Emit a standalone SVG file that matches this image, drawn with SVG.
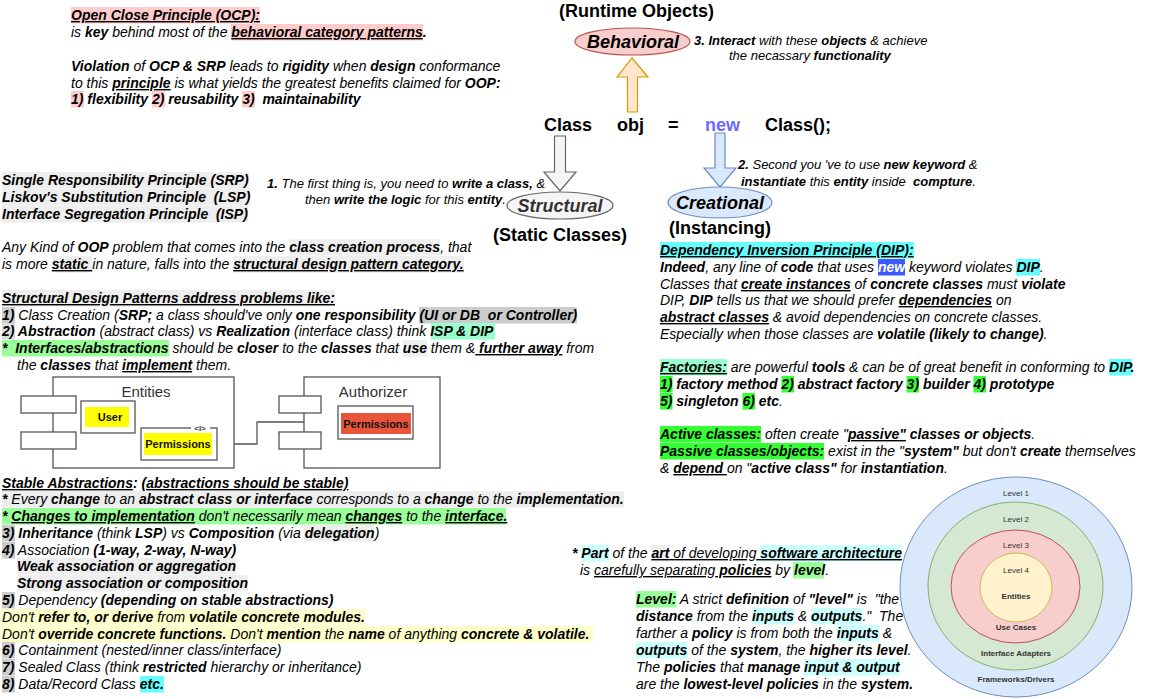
<svg xmlns="http://www.w3.org/2000/svg" width="1153" height="699" viewBox="0 0 1153 699" xml:space="preserve">
<style>
.f{font-family:"Liberation Sans",Arial,Helvetica,sans-serif;}
.t{font-family:"Liberation Sans",Arial,Helvetica,sans-serif;font-size:14px;font-style:italic;fill:#000;white-space:pre;}
.s{font-size:13px;}
.b{font-weight:bold;}
.u{text-decoration:underline;}
.h1{font-family:"Liberation Sans",Arial,Helvetica,sans-serif;font-size:18px;font-weight:bold;fill:#000;}
.hl{font-family:"Liberation Sans",Arial,Helvetica,sans-serif;font-size:18px;font-weight:bold;font-style:italic;text-anchor:middle;}
.cb{fill:#fff;stroke:#555;stroke-width:1.3;}
.ct{font-family:"Liberation Sans",Arial,Helvetica,sans-serif;font-size:11px;font-weight:bold;fill:#111;text-anchor:middle;}
.lv{font-family:"Liberation Sans",Arial,Helvetica,sans-serif;font-size:8px;fill:#333;text-anchor:middle;}
.lvb{font-family:"Liberation Sans",Arial,Helvetica,sans-serif;font-size:8px;font-weight:bold;fill:#333;text-anchor:middle;}
.line{fill:none;stroke:#555;stroke-width:1.3;}
.gy{fill:#eeeeee;}
.gd{fill:#cccccc;}
.yl{fill:#ffffcc;}
.cy{fill:#66ffff;}
.lc{fill:#ccffff;}
.gr{fill:#99ff99;}
.bg{fill:#33ff33;}
.pk{fill:#ffcccc;}
.mt{fill:#99ffcc;}
</style>
<defs>
<marker id="openArrow" viewBox="0 0 10 10" refX="9" refY="5" markerWidth="7" markerHeight="7" orient="auto" markerUnits="userSpaceOnUse"><path d="M1,1 L9,5 L1,9" fill="none" stroke="#555" stroke-width="1.5"/></marker>
<marker id="triArrow" viewBox="0 0 10 10" refX="9" refY="5" markerWidth="8" markerHeight="8" orient="auto" markerUnits="userSpaceOnUse"><path d="M1,1 L9,5 L1,9 Z" fill="#fff" stroke="#555" stroke-width="1.3"/></marker>
</defs>
<rect width="1153" height="699" fill="#fff"/>

<g id="ocp-notes">
<rect class="pk" x="71" y="7" width="189" height="16.5"/>
<rect class="pk" x="231" y="24" width="192" height="16.5"/>
<rect class="pk" x="71" y="91" width="13" height="16.5"/>
<rect class="pk" x="152" y="91" width="13" height="16.5"/>
<rect class="pk" x="242" y="91" width="13" height="16.5"/>
<text class="t" x="71" y="20"><tspan class="b u">Open Close Principle (OCP):</tspan></text>
<text class="t" x="71" y="37">is <tspan class="b">key</tspan> behind most of the <tspan class="b u">behavioral category patterns</tspan><tspan class="b">.</tspan></text>
<text class="t" x="71" y="71"><tspan class="b">Violation</tspan> of <tspan class="b">OCP &amp; SRP</tspan> leads to <tspan class="b">rigidity</tspan> when <tspan class="b">design</tspan> conformance</text>
<text class="t" x="71" y="88">to this <tspan class="b u">principle</tspan> is what yields the greatest benefits claimed for <tspan class="b">OOP:</tspan></text>
<text class="t b" x="71" y="104" xml:space="preserve">1) flexibility 2) reusability 3)  maintainability</text>
</g>

<g id="runtime-title">
<text class="h1" x="559" y="17">(Runtime Objects)</text>
</g>

<g id="behavioral">
<ellipse cx="632.5" cy="41.5" rx="57.5" ry="13.5" fill="#f8cecc" stroke="#b85450" stroke-width="1.2"/>
<text class="hl" x="633" y="48" fill="#000">Behavioral</text>
</g>

<g id="note-3">
<text class="t s" x="694" y="45"><tspan class="b">3. Interact</tspan> with these <tspan class="b">objects</tspan> &amp; achieve</text>
<text class="t s" x="729" y="60">the necassary <tspan class="b">functionality</tspan></text>
</g>

<g id="statement">
<text class="h1" x="544" y="131">Class</text>
<text class="h1" x="617" y="131">obj</text>
<text class="h1" x="668" y="131">=</text>
<text class="h1" x="705" y="131" style="fill:#6b6bff">new</text>
<text class="h1" x="765" y="131">Class();</text>
</g>

<g id="connectors">
<path d="M632,58 L648,77 L637.5,77 L637.5,112 L627.5,112 L627.5,77 L617,77 Z" fill="#ffe6cc" stroke="#d79b00" stroke-width="1.2"/>
<path d="M554.5,136 L565.5,136 L565.5,172 L576,172 L560,191 L544,172 L554.5,172 Z" fill="#f5f5f5" stroke="#666" stroke-width="1.2"/>
<path d="M715,133 L725,133 L725,168 L736,168 L720,187 L704,168 L715,168 Z" fill="#dae8fc" stroke="#6c8ebf" stroke-width="1.2"/>
<polyline class="line" points="108,433 108,444 140,444" marker-end="url(#openArrow)"/>
<polyline class="line" points="338,422 257,422 257,444 218,444" marker-end="url(#triArrow)"/>
</g>

<g id="note-1">
<text class="t s" x="267" y="188"><tspan class="b">1.</tspan> The first thing is, you need to <tspan class="b">write a class,</tspan> &amp;</text>
<text class="t s" x="305" y="204">then <tspan class="b">write the logic</tspan> for this <tspan class="b">entity</tspan>.</text>
</g>

<g id="structural">
<ellipse cx="560" cy="205.5" rx="53" ry="13.5" fill="#f5f5f5" stroke="#666" stroke-width="1.2"/>
<text class="hl" x="560" y="212" fill="#333">Structural</text>
<text class="h1" x="560" y="241" text-anchor="middle">(Static Classes)</text>
</g>

<g id="creational">
<ellipse cx="720" cy="202.5" rx="52" ry="15.5" fill="#dae8fc" stroke="#6c8ebf" stroke-width="1.2"/>
<text class="hl" x="720" y="209" fill="#000">Creational</text>
<text class="h1" x="720" y="234" text-anchor="middle">(Instancing)</text>
</g>

<g id="note-2">
<text class="t s" x="738" y="169"><tspan class="b">2.</tspan> Second you 've to use <tspan class="b">new keyword</tspan> &amp;</text>
<text class="t s" x="741" y="186" xml:space="preserve"><tspan class="b">instantiate</tspan> this <tspan class="b">entity</tspan> inside  <tspan class="b">compture</tspan>.</text>
</g>

<g id="principles">
<rect class="gy" x="2" y="172" width="247" height="16.5"/>
<rect class="gy" x="2" y="189" width="248.5" height="16.5"/>
<rect class="gy" x="2" y="206" width="246" height="16.5"/>
<text class="t b" x="2" y="185">Single Responsibility Principle (SRP)</text>
<text class="t b" x="2" y="202" xml:space="preserve">Liskov's Substitution Principle  (LSP)</text>
<text class="t b" x="2" y="219" xml:space="preserve">Interface Segregation Principle  (ISP)</text>
<rect class="gy" x="289" y="239" width="151" height="16.5"/>
<rect class="gy" x="52" y="256" width="40" height="16.5"/>
<rect class="gy" x="233" y="256" width="231" height="16.5"/>
<text class="t" x="2" y="252">Any Kind of <tspan class="b">OOP</tspan> problem that comes into the <tspan class="b">class creation process</tspan>, that</text>
<text class="t" x="2" y="269">is more <tspan class="b u">static </tspan>in nature, falls into the <tspan class="b u">structural design pattern category.</tspan></text>
</g>

<g id="structural-problems">
<rect class="gy" x="2" y="290" width="333" height="16.5"/>
<text class="t b u" x="2" y="303">Structural Design Patterns address problems like:</text>
<rect class="gd" x="2" y="307" width="13" height="16.5"/>
<rect class="gd" x="419" y="307" width="158" height="16.5"/>
<rect x="2" y="323" width="13" height="16.5" fill="#dddddd"/>
<rect class="mt" x="431" y="323" width="64" height="16.5"/>
<rect class="gr" x="2" y="340" width="167" height="16.5"/>
<rect class="gy" x="403" y="340" width="24" height="16.5"/>
<text class="t" x="2" y="320" xml:space="preserve"><tspan class="b">1)</tspan> Class Creation (<tspan class="b">SRP;</tspan> a class should've only <tspan class="b">one responsibility (UI or DB  or Controller)</tspan></text>
<text class="t" x="2" y="336"><tspan class="b">2) Abstraction</tspan> (abstract class) vs <tspan class="b">Realization</tspan> (interface class) think <tspan class="b">ISP &amp; DIP</tspan></text>
<text class="t" x="2" y="353" xml:space="preserve"><tspan class="b">*  Interfaces/abstractions</tspan> should be <tspan class="b">closer</tspan> to the <tspan class="b">classes</tspan> that <tspan class="b">use</tspan> them &amp;<tspan class="b u"> further away</tspan> from</text>
<text class="t" x="17" y="370">the <tspan class="b">classes</tspan> that <tspan class="b u">implement</tspan> them.</text>
</g>

<g id="component-diagram">
<g id="entities">
<rect class="cb" x="53" y="377" width="181" height="91"/>
<text class="f" x="146" y="397" font-size="15" fill="#333" text-anchor="middle">Entities</text>
<rect class="cb" x="21" y="396" width="55" height="17"/>
<rect class="cb" x="21" y="432" width="55" height="17"/>
<rect class="cb" x="81" y="401" width="54" height="32"/>
<rect x="85" y="407" width="44" height="20" fill="#ffff00"/>
<text class="ct" x="110" y="421">User</text>
<rect class="cb" x="141" y="428" width="76" height="32"/>
<rect x="144" y="433" width="68" height="22" fill="#ffff00"/>
<text class="ct" x="178" y="448">Permissions</text>
<rect x="191" y="424" width="19" height="8" fill="#fff"/>
<text class="f" x="200" y="431" font-size="8" font-weight="bold" fill="#444" text-anchor="middle">&lt;I&gt;</text>
</g>
<g id="authorizer">
<rect class="cb" x="304" y="377" width="136" height="91"/>
<text class="f" x="373" y="397" font-size="15" fill="#333" text-anchor="middle">Authorizer</text>
<rect class="cb" x="279" y="396" width="42" height="17"/>
<rect class="cb" x="279" y="432" width="42" height="17"/>
<rect class="cb" x="338" y="406" width="75" height="33"/>
<rect x="341" y="413" width="70" height="21" fill="#e8553a"/>
<text class="ct" x="376" y="428">Permissions</text>
</g>
</g>

<g id="stable-abstractions">
<text class="t b" x="2" y="488"><tspan class="u">Stable Abstractions</tspan>: <tspan class="u">(abstractions should be stable)</tspan></text>
<rect class="gy" x="2" y="491" width="622" height="16.5"/>
<text class="t" x="2" y="504"><tspan class="b">*</tspan> Every <tspan class="b">change</tspan> to an <tspan class="b">abstract class or interface</tspan> corresponds to a <tspan class="b">change</tspan> to the <tspan class="b">implementation.</tspan></text>
<rect class="gr" x="2" y="508" width="504" height="16.5"/>
<text class="t" x="2" y="521"><tspan class="b">* </tspan><tspan class="b u">Changes to implementation</tspan> don't necessarily mean <tspan class="b u">changes</tspan> to the <tspan class="b u">interface.</tspan></text>
<rect class="gd" x="2" y="525" width="13" height="16.5"/>
<rect class="gy" x="304" y="525" width="70" height="16.5"/>
<text class="t" x="2" y="538"><tspan class="b">3) Inheritance</tspan> (think <tspan class="b">LSP</tspan>) vs <tspan class="b">Composition</tspan> (via <tspan class="b">delegation</tspan>)</text>
<rect class="gd" x="2" y="542" width="13" height="16.5"/>
<text class="t" x="2" y="555"><tspan class="b">4)</tspan> Association <tspan class="b">(1-way, 2-way, N-way)</tspan></text>
<rect class="gy" x="17" y="558" width="219.5" height="16.5"/>
<text class="t b" x="17" y="571">Weak association or aggregation</text>
<rect class="gy" x="17" y="575" width="231" height="16.5"/>
<text class="t b" x="17" y="588">Strong association or composition</text>
<rect class="gd" x="2" y="592" width="13" height="16.5"/>
<text class="t" x="2" y="605"><tspan class="b">5)</tspan> Dependency <tspan class="b">(depending on stable abstractions)</tspan></text>
<rect class="yl" x="1" y="609" width="364" height="16.5"/>
<text class="t" x="2" y="622">Don't <tspan class="b">refer to, or derive</tspan> from <tspan class="b">volatile concrete modules.</tspan></text>
<rect class="yl" x="1" y="626" width="592" height="16.5"/>
<text class="t" x="2" y="639">Don't <tspan class="b">override concrete functions.</tspan> Don't <tspan class="b">mention</tspan> the <tspan class="b">name</tspan> of anything <tspan class="b">concrete &amp; volatile.</tspan></text>
<rect class="gd" x="2" y="642" width="13" height="16.5"/>
<text class="t" x="2" y="655"><tspan class="b">6)</tspan> Containment (nested/inner class/interface)</text>
<rect class="gd" x="2" y="659" width="13" height="16.5"/>
<text class="t" x="2" y="672"><tspan class="b">7)</tspan> Sealed Class (think <tspan class="b">restricted</tspan> hierarchy or inheritance)</text>
<rect class="gd" x="2" y="676" width="13" height="16.5"/>
<rect class="cy" x="140" y="676" width="24" height="16.5"/>
<text class="t" x="2" y="689"><tspan class="b">8)</tspan> Data/Record Class <tspan class="b">etc.</tspan></text>
</g>

<g id="dip">
<rect class="cy" x="660" y="242" width="254" height="16.5"/>
<text class="t b u" x="660" y="255">Dependency Inversion Principle (DIP):</text>
<rect x="878" y="259" width="27" height="16.5" fill="#3d5afe"/>
<rect class="cy" x="1016" y="259" width="24" height="16.5"/>
<text class="t" x="660" y="272"><tspan class="b">Indeed</tspan>, any line of <tspan class="b">code</tspan> that uses <tspan class="b" fill="#fff">new</tspan> keyword violates <tspan class="b">DIP</tspan>.</text>
<text class="t" x="660" y="289">Classes that <tspan class="b u">create instances</tspan> of <tspan class="b">concrete classes</tspan> must <tspan class="b">violate</tspan></text>
<text class="t" x="660" y="305">DIP, <tspan class="b">DIP</tspan> tells us that we should prefer <tspan class="b u">dependencies</tspan> on</text>
<text class="t" x="660" y="322"><tspan class="b u">abstract classes</tspan> &amp; avoid dependencies on concrete classes.</text>
<text class="t" x="660" y="339">Especially when those classes are <tspan class="b">volatile (likely to change)</tspan>.</text>
</g>

<g id="factories">
<rect class="mt" x="660" y="359" width="67" height="16.5"/>
<rect class="cy" x="1109" y="359" width="23" height="16.5"/>
<rect class="bg" x="660" y="376" width="12.5" height="16.5"/>
<rect class="bg" x="781.5" y="376" width="12.5" height="16.5"/>
<rect class="bg" x="906.5" y="376" width="12.5" height="16.5"/>
<rect class="bg" x="973.5" y="376" width="12.5" height="16.5"/>
<rect class="bg" x="660" y="393" width="12.5" height="16.5"/>
<rect class="bg" x="742.5" y="393" width="12.5" height="16.5"/>
<text class="t" x="660" y="372"><tspan class="b u">Factories:</tspan> are powerful <tspan class="b">tools</tspan> &amp; can be of great benefit in conforming to <tspan class="b">DIP.</tspan></text>
<text class="t b" x="660" y="389">1) factory method 2) abstract factory 3) builder 4) prototype</text>
<text class="t" x="660" y="406"><tspan class="b">5) singleton 6) etc</tspan>.</text>
</g>

<g id="active-passive">
<rect class="bg" x="660" y="426" width="101" height="16.5"/>
<rect class="bg" x="660" y="443" width="164" height="16.5"/>
<text class="t" x="660" y="439"><tspan class="b">Active classes:</tspan> often create "<tspan class="b u">passive"</tspan><tspan class="b"> classes or objects</tspan>.</text>
<text class="t" x="660" y="456"><tspan class="b">Passive classes/objects:</tspan> exist in the "<tspan class="b">system"</tspan> but don't <tspan class="b">create</tspan> themselves</text>
<text class="t" x="660" y="473">&amp; <tspan class="b u">depend </tspan>on "<tspan class="b">active class"</tspan> for <tspan class="b">instantiation</tspan>.</text>
</g>

<g id="architecture-note">
<rect class="lc" x="581" y="545" width="28" height="16.5"/>
<rect class="gy" x="651" y="545" width="18" height="16.5"/>
<rect class="lc" x="760" y="545" width="141" height="16.5"/>
<rect class="gr" x="793" y="562" width="31" height="16.5"/>
<text class="t" x="572" y="558"><tspan class="b">* Part</tspan> of the <tspan class="b u">art</tspan><tspan class="u"> of developing</tspan><tspan class="b u"> software architecture</tspan></text>
<text class="t" x="580" y="575">is <tspan class="u">carefully separating</tspan><tspan class="b u"> policies</tspan> by <tspan class="b">level</tspan>.</text>
</g>

<g id="level-definition">
<rect class="gr" x="636" y="591" width="40.5" height="16.5"/>
<rect class="lc" x="752" y="608" width="42" height="16.5"/>
<rect class="lc" x="811" y="608" width="51.5" height="16.5"/>
<rect class="lc" x="837" y="625" width="42" height="16.5"/>
<rect class="lc" x="636" y="642" width="51.5" height="16.5"/>
<rect class="lc" x="804" y="659" width="96" height="16.5"/>
<text class="t" x="636" y="604" xml:space="preserve"><tspan class="b">Level:</tspan> A strict <tspan class="b">definition</tspan> of <tspan class="b">"level"</tspan> is  "the</text>
<text class="t" x="636" y="621" xml:space="preserve"><tspan class="b">distance</tspan> from the <tspan class="b">inputs</tspan> &amp; <tspan class="b">outputs</tspan>."  The</text>
<text class="t" x="636" y="638">farther a <tspan class="b">policy</tspan> is from both the <tspan class="b">inputs</tspan> &amp;</text>
<text class="t" x="636" y="655"><tspan class="b">outputs</tspan> of the <tspan class="b">system</tspan>, the <tspan class="b">higher its level</tspan>.</text>
<text class="t" x="636" y="672">The <tspan class="b">policies</tspan> that <tspan class="b">manage</tspan> <tspan class="b">input &amp; output</tspan></text>
<text class="t" x="636" y="689">are the <tspan class="b">lowest-level policies</tspan> in the <tspan class="b">system.</tspan></text>
</g>

<g id="levels">
<ellipse cx="1016" cy="587" rx="116" ry="110" fill="#dae8fc" stroke="#6c8ebf" stroke-width="1"/>
<ellipse cx="1015.5" cy="586" rx="87.5" ry="84" fill="#d5e8d4" stroke="#82b366" stroke-width="1"/>
<ellipse cx="1015.5" cy="586.5" rx="64.5" ry="56.5" fill="#f8cecc" stroke="#b85450" stroke-width="1"/>
<ellipse cx="1016" cy="587.5" rx="36" ry="34.5" fill="#fff2cc" stroke="#d6b656" stroke-width="1"/>
<text class="lv" x="1016" y="496">Level 1</text>
<text class="lv" x="1016" y="522">Level 2</text>
<text class="lv" x="1016" y="548">Level 3</text>
<text class="lv" x="1016" y="573">Level 4</text>
<text class="lvb" x="1016" y="599">Entities</text>
<text class="lvb" x="1016" y="630">Use Cases</text>
<text class="lvb" x="1016" y="656">Interface Adapters</text>
<text class="lvb" x="1016" y="682">Frameworks/Drivers</text>
</g>
</svg>
